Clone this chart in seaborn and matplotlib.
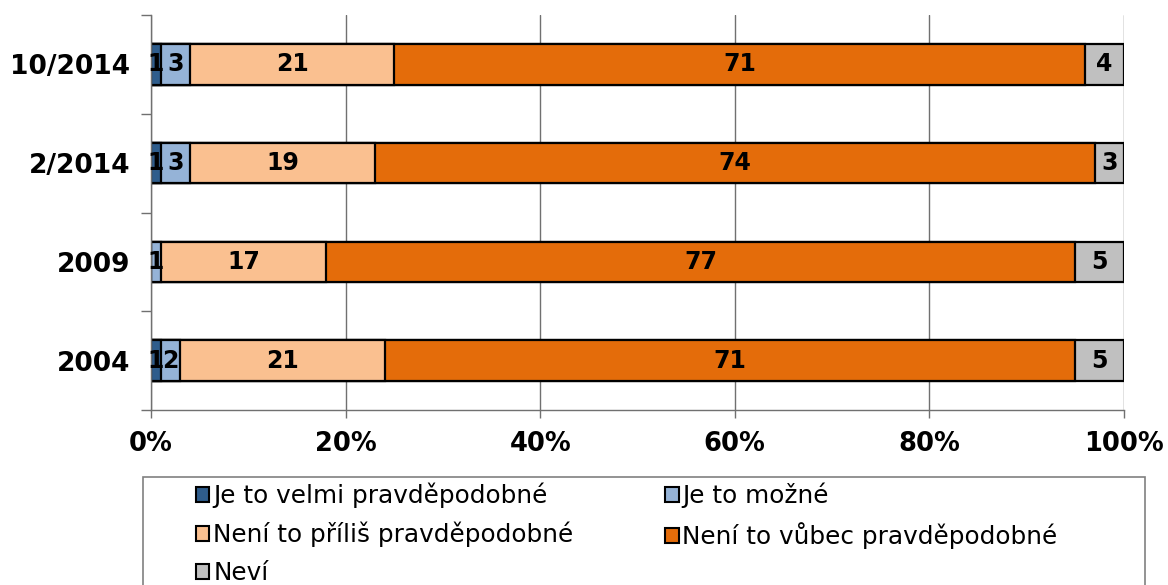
import matplotlib

matplotlib.use("Agg")
import matplotlib.pyplot as plt
import pandas as pd
import seaborn as sns
from matplotlib.patches import Patch, Rectangle
from matplotlib.ticker import PercentFormatter

PERIODS = ["10/2014", "2/2014", "2009", "2004"]
SERIES = [
    "Je to velmi pravděpodobné",
    "Je to možné",
    "Není to příliš pravděpodobné",
    "Není to vůbec pravděpodobné",
    "Neví",
]
VELMI = [1, 1, 0, 1]
MOZNE = [3, 3, 1, 2]
PRILIS = [21, 19, 17, 21]
VUBEC = [71, 74, 77, 71]
NEVI = [4, 3, 5, 5]

COLORS = ["#2F5D8C", "#95B3D7", "#FAC090", "#E46C0A", "#C0C0C0"]

sns.set_theme(style="white")
plt.rcParams["font.family"] = ["DejaVu Sans"]
plt.rcParams["text.color"] = "black"

df = pd.DataFrame(
    {"period": PERIODS, SERIES[0]: VELMI, SERIES[1]: MOZNE, SERIES[2]: PRILIS,
     SERIES[3]: VUBEC, SERIES[4]: NEVI}
)
cum = df[SERIES].cumsum(axis=1)
cum["period"] = df["period"]

fig = plt.figure(figsize=(11.68, 5.85), dpi=100)
ax = fig.add_axes([151 / 1168, 1 - 410 / 585, (1124 - 151) / 1168, (410 - 15) / 585])

# draw cumulative bars from the longest down so each segment shows
for name, color in reversed(list(zip(SERIES, COLORS))):
    sns.barplot(
        data=cum, x=name, y="period", order=PERIODS, orient="h",
        color=color, edgecolor="black", linewidth=1.6, width=0.41,
        saturation=1, ax=ax,
    )

for i, period in enumerate(PERIODS):
    for name in SERIES:
        v = df.loc[i, name]
        if v > 0:
            ax.text(cum.loc[i, name] - v / 2, i, str(v), ha="center", va="center",
                    fontsize=17, fontweight="bold", color="black")

ax.set_xlim(0, 100)
ax.set_ylim(len(PERIODS) - 0.5, -0.5)
ax.set_xticks(range(0, 101, 20))
ax.xaxis.set_major_formatter(PercentFormatter(xmax=100, decimals=0))
ax.set_xlabel("")
ax.set_ylabel("")
ax.grid(axis="x", color="#707070", linewidth=1.0)
ax.set_axisbelow(True)
for s in ["top", "right"]:
    ax.spines[s].set_visible(False)
for s in ["left", "bottom"]:
    ax.spines[s].set_color("#707070")
    ax.spines[s].set_linewidth(1.0)

ax.tick_params(axis="x", bottom=True, length=6, width=1, color="#707070",
               labelcolor="black", labelsize=18.5, pad=9)
ax.tick_params(axis="y", which="major", left=False, labelcolor="black",
               labelsize=19, pad=9)
ax.set_yticks([i - 0.5 for i in range(len(PERIODS) + 1)], minor=True)
ax.tick_params(axis="y", which="minor", left=True, length=7, width=1, color="#707070")
for lab in ax.get_xticklabels() + ax.get_yticklabels():
    lab.set_fontweight("bold")

fig.patches.append(Rectangle((143 / 1168, -0.05), (1145 - 143) / 1168, 0.05 + 108 / 585,
                             transform=fig.transFigure, facecolor="white",
                             edgecolor="#808080", linewidth=1.2))

handles = [Patch(facecolor=c, edgecolor="black", linewidth=1.5, label=n)
           for n, c in zip(SERIES, COLORS)]
order = [0, 2, 4, 1, 3]
fig.legend(
    [handles[k] for k in order], [SERIES[k] for k in order],
    loc="upper left", bbox_to_anchor=(186 / 1168, 1 - 473 / 585), ncol=2,
    frameon=False, fontsize=17.8, handlelength=0.55, handleheight=0.55,
    handletextpad=0.15, labelspacing=0.55, columnspacing=3.7, borderaxespad=0,
)

fig.savefig("out.png", dpi=100)
